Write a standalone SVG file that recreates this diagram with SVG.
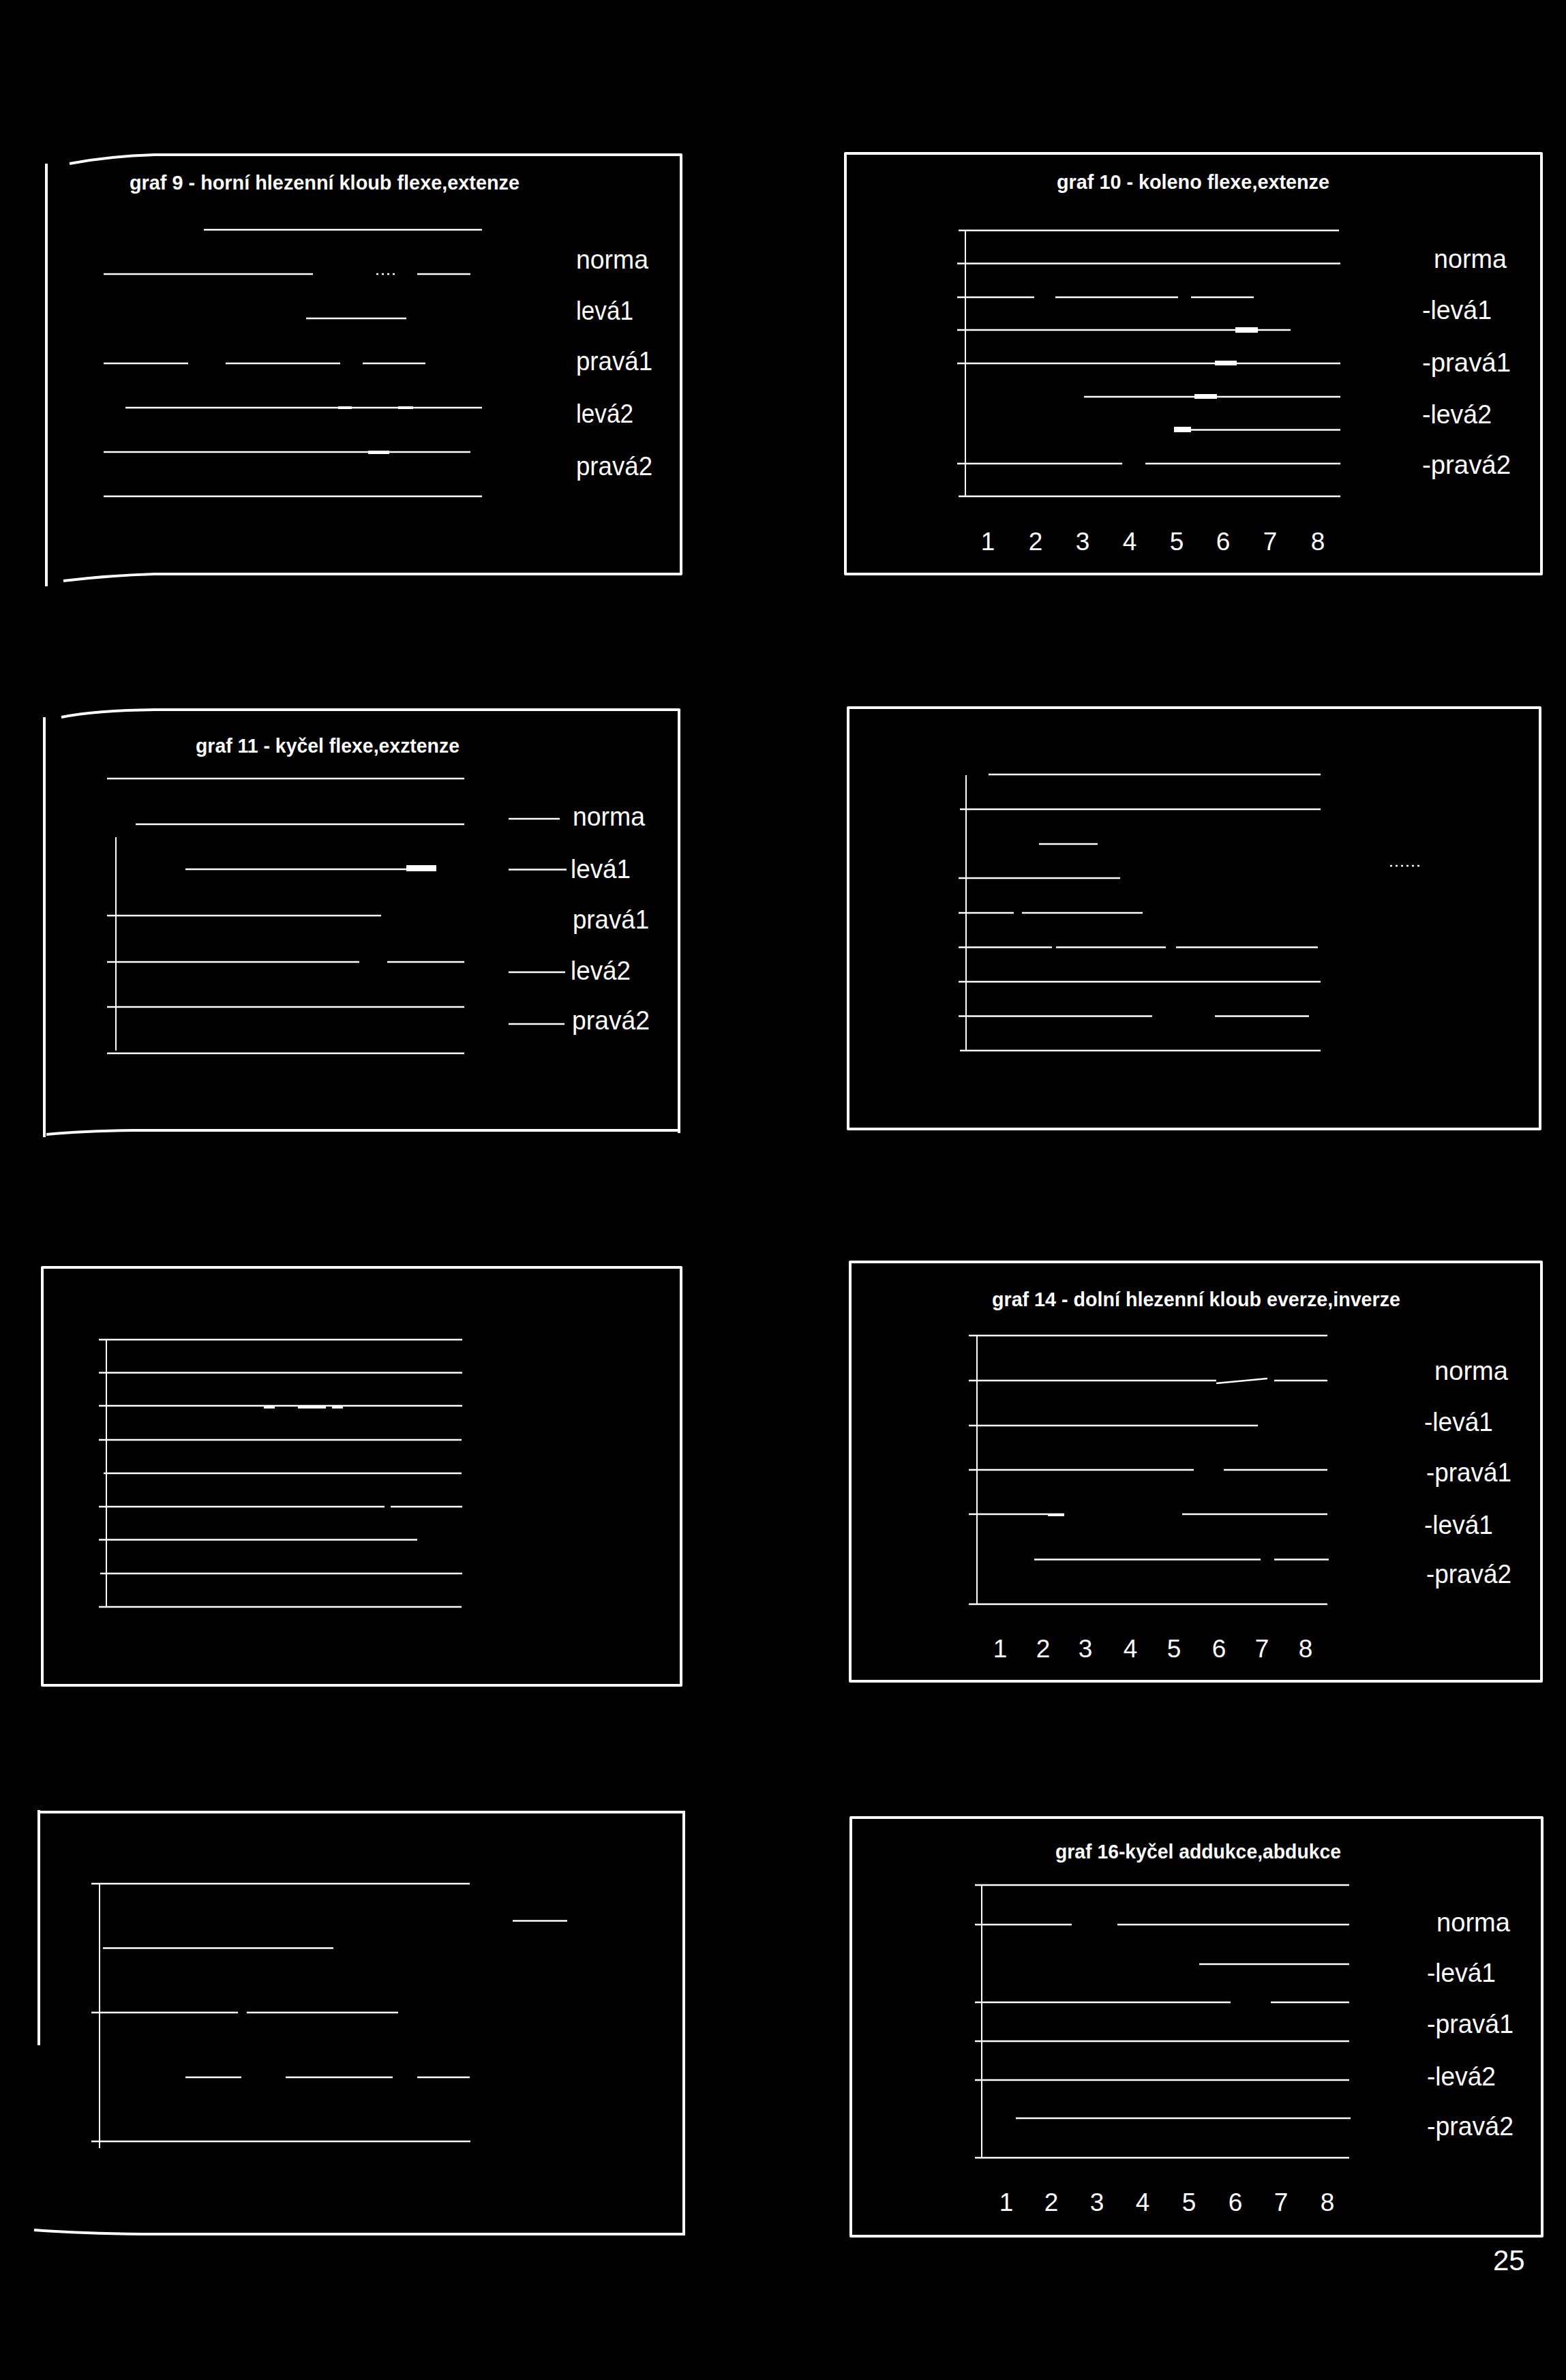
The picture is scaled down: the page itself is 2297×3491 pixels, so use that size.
<svg xmlns="http://www.w3.org/2000/svg" width="2297" height="3491" viewBox="0 0 2297 3491">
<style>
.fr{fill:none;stroke:#fff;stroke-width:4;stroke-linejoin:round}
.gl{fill:none;stroke:#fff;stroke-width:2.5}
.ax{fill:none;stroke:#fff;stroke-width:2}
.bl{fill:#fff}
.tt{font-family:"Liberation Sans",Arial,sans-serif;font-weight:bold;font-size:29px;fill:#fff}
.lg{font-family:"Liberation Sans",Arial,sans-serif;font-size:39px;fill:#fff}
.xl{font-family:"Liberation Sans",Arial,sans-serif;font-size:37px;fill:#fff;text-anchor:middle}
.pn{font-family:"Liberation Sans",Arial,sans-serif;font-size:42px;fill:#fff}
</style>
<rect x="0" y="0" width="2297" height="3491" fill="#000"/>

<g id="graf9">
<path class="fr" d="M68 240V860"/>
<path class="fr" d="M102 240Q160 229 227 227H999V842H227Q160 844 93 852"/>
<text class="tt" x="190" y="278" textLength="572" lengthAdjust="spacingAndGlyphs">graf 9 - horní hlezenní kloub flexe,extenze</text>
<path class="gl" d="M299 337H707M152 402H459M612 402H690M449 467H596M152 533H276M331 533H499M532 533H624M184 598H707M152 663H690M152 728H707"/>
<path class="gl" stroke-dasharray="3 5" stroke-width="1.5" d="M552 402H584"/>
<rect class="bl" x="496" y="596" width="20" height="4"/>
<rect class="bl" x="584" y="596" width="22" height="4"/>
<rect class="bl" x="540" y="661" width="31" height="5"/>
<text class="lg" x="845" y="394" textLength="106" lengthAdjust="spacingAndGlyphs">norma</text>
<text class="lg" x="845" y="469" textLength="84" lengthAdjust="spacingAndGlyphs">levá1</text>
<text class="lg" x="845" y="543" textLength="112" lengthAdjust="spacingAndGlyphs">pravá1</text>
<text class="lg" x="845" y="620" textLength="84" lengthAdjust="spacingAndGlyphs">levá2</text>
<text class="lg" x="845" y="697" textLength="112" lengthAdjust="spacingAndGlyphs">pravá2</text>
</g>

<g id="graf10">
<rect class="fr" x="1240" y="225" width="1021" height="617"/>
<text class="tt" x="1550" y="277" textLength="400" lengthAdjust="spacingAndGlyphs">graf 10 - koleno flexe,extenze</text>
<path class="ax" d="M1416 339V728"/>
<path class="gl" d="M1406 338H1964M1404 386.5H1966M1404 436H1517M1548 436H1728M1747 436H1839M1404 484H1893M1404 533H1966M1590 582H1966M1722 630.5H1966M1404 680H1646M1680 680H1966M1406 728H1966"/>
<rect class="bl" x="1812" y="480" width="33" height="8"/>
<rect class="bl" x="1782" y="529" width="32" height="7"/>
<rect class="bl" x="1752" y="578" width="33" height="7"/>
<rect class="bl" x="1722" y="626" width="25" height="8"/>
<g class="xl"><text x="1449" y="807">1</text><text x="1519" y="807">2</text><text x="1588" y="807">3</text><text x="1657" y="807">4</text><text x="1726" y="807">5</text><text x="1794" y="807">6</text><text x="1863" y="807">7</text><text x="1933" y="807">8</text></g>
<text class="lg" x="2103" y="393" textLength="107" lengthAdjust="spacingAndGlyphs">norma</text>
<text class="lg" x="2086" y="468" textLength="102" lengthAdjust="spacingAndGlyphs">-levá1</text>
<text class="lg" x="2086" y="545" textLength="130" lengthAdjust="spacingAndGlyphs">-pravá1</text>
<text class="lg" x="2086" y="621" textLength="102" lengthAdjust="spacingAndGlyphs">-levá2</text>
<text class="lg" x="2086" y="695" textLength="130" lengthAdjust="spacingAndGlyphs">-pravá2</text>
</g>

<g id="graf11">
<path class="fr" d="M65 1052V1668"/>
<path class="fr" d="M90 1052Q140 1042 227 1041H996V1662M68 1664Q120 1659 196 1658H996"/>
<text class="tt" x="287" y="1104" textLength="387" lengthAdjust="spacingAndGlyphs">graf 11 - kyčel flexe,exztenze</text>
<path class="ax" d="M170 1228V1541"/>
<path class="gl" d="M157 1142H681M199 1209H681M272 1275H640M157 1343H559M157 1411H527M568 1411H681M157 1477H681M157 1545H681"/>
<rect class="bl" x="596" y="1269" width="44" height="9"/>
<path class="gl" stroke-width="2" d="M746 1201H821"/>
<path class="gl" stroke-width="5" d="M746 1275.5H831"/>
<path class="gl" stroke-width="4" d="M746 1426H829"/>
<path class="gl" stroke-width="5" d="M746 1502H828"/>
<text class="lg" x="840" y="1211" textLength="106" lengthAdjust="spacingAndGlyphs">norma</text>
<text class="lg" x="837" y="1288" textLength="88" lengthAdjust="spacingAndGlyphs">levá1</text>
<text class="lg" x="840" y="1362" textLength="112" lengthAdjust="spacingAndGlyphs">pravá1</text>
<text class="lg" x="837" y="1437" textLength="88" lengthAdjust="spacingAndGlyphs">levá2</text>
<text class="lg" x="839" y="1510" textLength="114" lengthAdjust="spacingAndGlyphs">pravá2</text>
</g>

<g id="graf12">
<rect class="fr" x="1244" y="1038" width="1015" height="618"/>
<path class="ax" d="M1417 1137V1542"/>
<path class="gl" d="M1450 1136H1937M1408 1187H1937M1524 1238H1610M1406 1288H1643M1406 1339H1487M1499 1339H1676M1406 1389.5H1543M1549 1389.5H1710M1725 1389.5H1933M1406 1440H1937M1406 1490.5H1690M1782 1490.5H1920M1408 1541H1937"/>
<path class="gl" stroke-width="2" stroke-dasharray="3 5" d="M2039 1270H2084"/>
</g>

<g id="graf13">
<rect class="fr" x="62" y="1859" width="937" height="613"/>
<path class="ax" d="M156 1965V2357"/>
<path class="gl" d="M145 1965H678M145 2013.5H678M145 2062H678M145 2112H677M152 2161H677M145 2210H564M573 2210H678M145 2258.5H612M147 2308H678M145 2357H677"/>
<rect class="bl" x="387" y="2062" width="16" height="4"/>
<rect class="bl" x="437" y="2062" width="41" height="4"/>
<rect class="bl" x="487" y="2062" width="16" height="4"/>
</g>

<g id="graf14">
<rect class="fr" x="1247" y="1851" width="1014" height="615"/>
<text class="tt" x="1455" y="1916" textLength="599" lengthAdjust="spacingAndGlyphs">graf 14 - dolní hlezenní kloub everze,inverze</text>
<path class="ax" d="M1433 1960V2354"/>
<path class="gl" d="M1421 1959H1947M1421 2025H1784M1869 2025H1947M1421 2091H1845M1421 2156H1751M1795 2156H1947M1421 2221H1561M1734 2221H1947M1517 2287.5H1849M1869 2287.5H1949M1421 2353H1947"/>
<path class="gl" stroke-width="6" d="M1784 2029L1859 2022"/>
<rect class="bl" x="1537" y="2220" width="24" height="4"/>
<g class="xl"><text x="1467" y="2431">1</text><text x="1530" y="2431">2</text><text x="1592" y="2431">3</text><text x="1658" y="2431">4</text><text x="1722" y="2431">5</text><text x="1788" y="2431">6</text><text x="1851" y="2431">7</text><text x="1915" y="2431">8</text></g>
<text class="lg" x="2104" y="2024" textLength="108" lengthAdjust="spacingAndGlyphs">norma</text>
<text class="lg" x="2089" y="2099" textLength="101" lengthAdjust="spacingAndGlyphs">-levá1</text>
<text class="lg" x="2092" y="2173" textLength="125" lengthAdjust="spacingAndGlyphs">-pravá1</text>
<text class="lg" x="2089" y="2250" textLength="101" lengthAdjust="spacingAndGlyphs">-levá1</text>
<text class="lg" x="2092" y="2322" textLength="125" lengthAdjust="spacingAndGlyphs">-pravá2</text>
</g>

<g id="graf15">
<path class="fr" d="M57 2655V3000"/>
<path class="fr" d="M56 2658H1005M1003 2659V3276M50 3271Q120 3276 209 3277H1005"/>
<path class="ax" d="M146 2764V3151"/>
<path class="gl" d="M134 2763H689M151 2857.6H489M134 2952H349M362 2952H584M272 3047H354M419 3047H576M612 3047H689M134 3141H690"/>
<path class="gl" d="M752 2817.6H832"/>
</g>

<g id="graf16">
<rect class="fr" x="1248" y="2666" width="1014" height="614"/>
<text class="tt" x="1548" y="2726" textLength="419" lengthAdjust="spacingAndGlyphs">graf 16-kyčel addukce,abdukce</text>
<path class="ax" d="M1440 2766V3164"/>
<path class="gl" d="M1430 2765H1979M1430 2823H1572M1639 2823H1979M1759 2881H1979M1430 2937H1805M1864 2937H1979M1430 2994H1979M1430 3051H1979M1490 3107H1981M1430 3165H1979"/>
<g class="xl"><text x="1476" y="3243">1</text><text x="1542" y="3243">2</text><text x="1609" y="3243">3</text><text x="1676" y="3243">4</text><text x="1744" y="3243">5</text><text x="1812" y="3243">6</text><text x="1879" y="3243">7</text><text x="1947" y="3243">8</text></g>
<text class="lg" x="2107" y="2833" textLength="108" lengthAdjust="spacingAndGlyphs">norma</text>
<text class="lg" x="2093" y="2907" textLength="101" lengthAdjust="spacingAndGlyphs">-levá1</text>
<text class="lg" x="2093" y="2982" textLength="127" lengthAdjust="spacingAndGlyphs">-pravá1</text>
<text class="lg" x="2093" y="3059" textLength="101" lengthAdjust="spacingAndGlyphs">-levá2</text>
<text class="lg" x="2093" y="3132" textLength="127" lengthAdjust="spacingAndGlyphs">-pravá2</text>
</g>

<text id="page-number" class="pn" x="2190" y="3330">25</text>
</svg>
